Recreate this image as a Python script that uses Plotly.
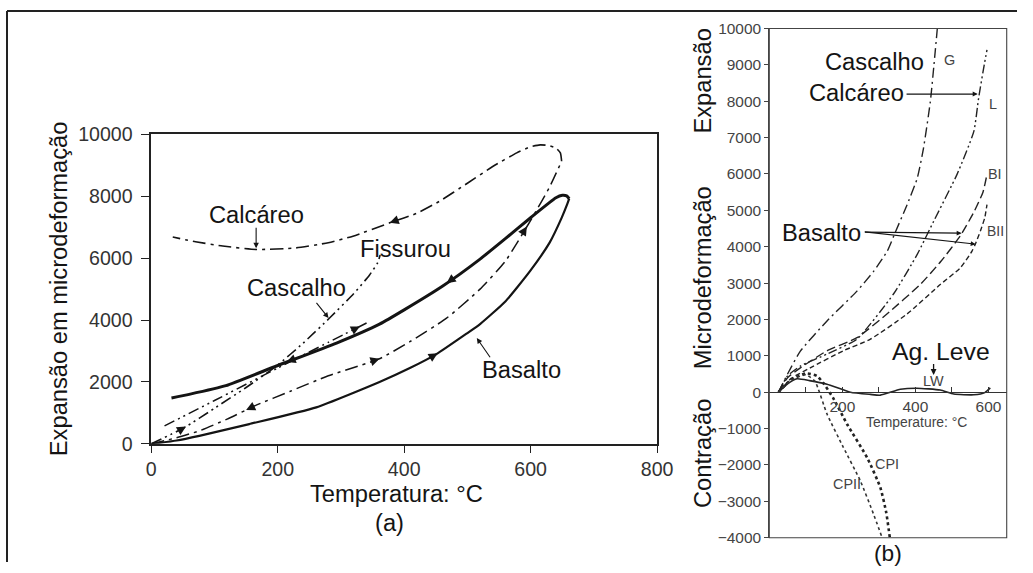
import numpy as np
import plotly.graph_objects as go

W, H = 1033, 573
# measured mapping between figure pixels and the photographed picture:
# picture = S * figure + C   (per direction)
SXP, CXP = 0.978, 6.0
SYP, CYP = 0.963, 9.5
FS = 1.0 / 0.97  # font compensation

FONT = "Liberation Sans, Arial, sans-serif"
INK = "#141414"
GRAY = "#444444"

# ---------------- Panel (a) data ----------------
calc_heat_T = [0, 40, 76, 120, 166, 220, 280, 361, 409, 467, 520, 560, 602, 630, 649]
calc_heat_E = [0, 200, 420, 800, 1250, 1700, 2200, 2750, 3300, 4060, 5000, 5900, 7290, 8300, 9130]
calc_cool_T = [649, 647, 640, 628, 615, 600, 578, 540, 500, 456, 420, 377, 319, 280, 229, 166, 113, 70, 34]
calc_cool_E = [9130, 9400, 9560, 9640, 9660, 9600, 9400, 8960, 8420, 7840, 7450, 7140, 6710, 6500, 6330, 6280, 6390, 6530, 6680]

casc_heat_T = [0, 52, 100, 150, 198, 240, 282, 320, 345, 358, 362]
casc_heat_E = [0, 520, 1150, 1820, 2516, 3250, 4065, 4850, 5450, 5850, 6100]
casc_back_T = [21, 100, 200, 280, 345]
casc_back_E = [580, 1400, 2450, 3280, 3950]

bas_heat_T = [0, 40, 76, 155, 261, 361, 409, 451, 500, 520, 560, 599, 630, 649, 658, 661]
bas_heat_E = [0, 110, 260, 640, 1180, 2000, 2450, 2900, 3580, 3870, 4600, 5580, 6500, 7300, 7750, 7920]
bas_cool_T = [661, 657, 650, 640, 599, 560, 520, 461, 400, 361, 293, 198, 118, 60, 32]
bas_cool_E = [7920, 8010, 8030, 7950, 7290, 6630, 5970, 5100, 4330, 3870, 3258, 2516, 1880, 1600, 1484]

a_xticks = [0, 200, 400, 600, 800]
a_yticks = [0, 2000, 4000, 6000, 8000, 10000]

# ---------------- Panel (b) data ----------------
G_T = [25, 50, 85, 158, 240, 286, 323, 345, 375, 405, 422, 441, 460]
G_E = [0, 500, 1130, 1960, 2780, 3330, 3880, 4400, 5100, 5880, 6700, 8000, 10000]
L_T = [25, 50, 85, 158, 240, 340, 405, 450, 514, 560, 573, 585, 596]
L_E = [0, 450, 720, 1050, 1460, 2700, 3790, 4700, 5990, 7170, 8080, 8800, 9415]
BI_T = [25, 50, 85, 158, 240, 322, 414, 470, 523, 560, 585, 596]
BI_E = [0, 400, 670, 1140, 1500, 2150, 2970, 3600, 4300, 4950, 5500, 5990]
BII_T = [25, 60, 112, 203, 277, 377, 468, 523, 555, 564, 578, 590, 596]
BII_E = [0, 380, 670, 1140, 1460, 2150, 2960, 3420, 3880, 4070, 4430, 4800, 5160]
LW_T = [25, 50, 76, 110, 158, 222, 277, 304, 359, 404, 468, 505, 560, 590, 605]
LW_E = [0, 230, 370, 320, 220, 0, -60, -80, 80, 110, 60, -50, -70, -10, 120]
CPI_T = [25, 60, 100, 130, 148, 175, 213, 268, 304, 320, 330]
CPI_E = [0, 350, 520, 450, 250, -160, -880, -1800, -2620, -3300, -4000]
CPII_T = [25, 60, 100, 125, 158, 203, 249, 285, 309]
CPII_E = [0, 330, 480, 300, -600, -1520, -2430, -3340, -4000]

b_xtickvals = [100, 200, 300, 400, 500, 600]
b_xticktext = ["", "200", "", "400", "", "600"]
b_yticks = list(range(-4000, 10001, 1000))

# ---------------- layout geometry (target picture pixels -> paper) ----------------
def fx(px):
    return (px - CXP) / SXP

def fy(py):
    return (py - CYP) / SYP

def px2paper_x(px):
    return fx(px) / W

def px2paper_y(py):
    return 1 - fy(py) / H

A_X = [px2paper_x(152), px2paper_x(657)]
A_Y = [px2paper_y(443), px2paper_y(133)]
B_X = [px2paper_x(769), px2paper_x(1006)]
B_Y = [px2paper_y(537), px2paper_y(27)]
B_RANGE_Y = [-4000, 10000]
zero_pos = B_Y[0] + (0 - B_RANGE_Y[0]) / (B_RANGE_Y[1] - B_RANGE_Y[0]) * (B_Y[1] - B_Y[0])

DASHDOT = "13px,5px,3px,5px"
DASHDOTDOT = "11px,4px,2px,4px,2px,4px"

fig = go.Figure()

def add(x, y, xa, ya, width, dash, color=INK, smooth=0.5):
    fig.add_trace(go.Scatter(x=x, y=y, xaxis=xa, yaxis=ya, mode="lines",
                             line=dict(color=color, width=width, dash=dash, shape="spline", smoothing=smooth),
                             hoverinfo="skip", showlegend=False))

add(calc_heat_T, calc_heat_E, "x", "y", 1.5, DASHDOT)
add(calc_cool_T, calc_cool_E, "x", "y", 1.6, DASHDOT)
add(casc_heat_T, casc_heat_E, "x", "y", 1.6, DASHDOTDOT)
add(casc_back_T, casc_back_E, "x", "y", 1.5, DASHDOTDOT)
add(bas_heat_T, bas_heat_E, "x", "y", 2.2, "solid")
add(bas_cool_T, bas_cool_E, "x", "y", 3.0, "solid")

add(G_T, G_E, "x2", "y2", 1.4, "10px,4px,2px,4px", "#222")
add(L_T, L_E, "x2", "y2", 1.4, "9px,3px,2px,3px,2px,3px", "#222")
add(BI_T, BI_E, "x2", "y2", 1.4, "9px,4px", "#222")
add(BII_T, BII_E, "x2", "y2", 1.4, "5px,3px", "#222")
add(LW_T, LW_E, "x2", "y2", 1.6, "solid", "#222")
add(CPI_T, CPI_E, "x2", "y2", 2.6, "dot", "#222")
add(CPII_T, CPII_E, "x2", "y2", 1.6, "dot", "#333")

annotations = []

def txt(px, py, text, size, color=INK, xanchor="center", angle=0):
    annotations.append(dict(x=px2paper_x(px), y=px2paper_y(py), xref="paper", yref="paper",
                            text=text, showarrow=False, xanchor=xanchor, yanchor="middle",
                            textangle=angle, font=dict(family=FONT, size=size * FS, color=color)))

def arrow_px(x0, y0, x1, y1, width=1.1, head=2, size=1.0):
    annotations.append(dict(x=px2paper_x(x1), y=px2paper_y(y1), xref="paper", yref="paper",
                            ax=fx(x0) - fx(x1), ay=fy(y0) - fy(y1), axref="pixel", ayref="pixel",
                            text="", showarrow=True, arrowhead=head, arrowsize=size,
                            arrowwidth=width, arrowcolor=INK))

SX = (657 - 152) / 800.0
SY = (443 - 133) / 10000.0

def flow_arrow(Ts, Es, T0, forward=True, length=8):
    Ts = np.asarray(Ts, float)
    Es = np.asarray(Es, float)
    if Ts[0] > Ts[-1]:
        Ts, Es = Ts[::-1], Es[::-1]
        forward = not forward
    E0 = np.interp(T0, Ts, Es)
    step = -5 if forward else 5
    E1 = np.interp(T0 + step, Ts, Es)
    dx = step * SX
    dy = -(E1 - E0) * SY
    n = np.hypot(dx, dy)
    annotations.append(dict(x=T0, y=E0, xref="x", yref="y",
                            ax=dx / n * length, ay=dy / n * length, axref="pixel", ayref="pixel",
                            text="", showarrow=True, arrowhead=2, arrowsize=1.3, arrowwidth=1.4,
                            arrowcolor=INK))

flow_arrow(calc_cool_T, calc_cool_E, 377, forward=True)
flow_arrow(calc_heat_T, calc_heat_E, 594, forward=True)
flow_arrow(calc_heat_T, calc_heat_E, 361, forward=True)
flow_arrow(calc_heat_T, calc_heat_E, 150, forward=False)
flow_arrow(bas_cool_T, bas_cool_E, 467, forward=True)
flow_arrow(bas_cool_T, bas_cool_E, 214, forward=True)
flow_arrow(bas_heat_T, bas_heat_E, 453, forward=True)
flow_arrow(casc_heat_T, casc_heat_E, 55, forward=True)
flow_arrow(casc_back_T, casc_back_E, 330, forward=True)

# panel (a) texts
txt(60, 288, "Expansão em microdeformação", 23, angle=-90)
txt(397, 493, "Temperatura: °C", 23)
txt(390, 522, "(a)", 23)
txt(257, 214, "Calcáreo", 23)
arrow_px(256.7, 226, 256.7, 247)
txt(406, 248, "Fissurou", 23)
txt(297, 287, "Cascalho", 23)
arrow_px(316, 301, 329, 317)
txt(522, 369, "Basalto", 23)
arrow_px(491, 357, 477, 337)

# panel (b) texts
txt(703, 80, "Expansão", 23, angle=-90)
txt(703, 277, "Microdeformação", 23, angle=-90)
txt(703, 453, "Contração", 23, angle=-90)
txt(925, 61, "Cascalho", 23, xanchor="right")
txt(941, 59, "G", 14, GRAY, xanchor="left")
txt(905, 92, "Calcáreo", 23, xanchor="right")
arrow_px(906, 92.7, 977, 92.7, width=1.1, head=2, size=0.9)
txt(986, 103, "L", 14, GRAY, xanchor="left")
txt(985, 173, "BI", 14, GRAY, xanchor="left")
txt(984, 230, "BII", 13.5, GRAY, xanchor="left")
txt(863, 232, "Basalto", 23, xanchor="right")
arrow_px(865, 231, 961, 232, width=1.1, head=2, size=0.9)
arrow_px(865, 231, 975, 243, width=1.1, head=2, size=0.9)
txt(940, 350, "Ag. Leve", 24)
arrow_px(933, 362, 933, 374, width=1.3, head=2, size=0.9)
txt(933, 380, "LW", 14, GRAY)
txt(916, 421, "Temperature: °C", 13.5, GRAY)
txt(873, 463, "CPI", 14, GRAY, xanchor="left")
txt(831, 483, "CPII", 14, GRAY, xanchor="left")
txt(887, 552, "(b)", 22)

shapes = [
    dict(type="line", xref="paper", yref="paper", x0=px2paper_x(8), x1=1.0,
         y0=1.0, y1=1.0, line=dict(color="#222", width=2)),
    dict(type="line", xref="paper", yref="paper", x0=px2paper_x(8), x1=px2paper_x(8),
         y0=1.0, y1=0, line=dict(color="#222", width=2)),
    dict(type="rect", xref="x2 domain", yref="y2 domain", x0=0, x1=1, y0=0, y1=1,
         line=dict(color="#444", width=1.1)),
]

tickfont_a = dict(family=FONT, size=19 * FS, color="#333")
tickfont_b = dict(family=FONT, size=15 * FS, color="#444")

fig.update_layout(
    width=W, height=H, margin=dict(l=0, r=0, t=0, b=0),
    paper_bgcolor="white", plot_bgcolor="white", showlegend=False,
    font=dict(family=FONT, color=INK),
    xaxis=dict(domain=A_X, range=[0, 800], anchor="y", tickvals=a_xticks,
               ticktext=[str(v) for v in a_xticks], ticks="outside", ticklen=7, tickwidth=1.4,
               tickcolor="#222", showline=True, linecolor="#222", linewidth=1.5, mirror=True,
               showgrid=False, zeroline=False, tickfont=tickfont_a),
    yaxis=dict(domain=A_Y, range=[0, 10000], anchor="x", tickvals=a_yticks,
               ticktext=[str(v) for v in a_yticks], ticks="outside", ticklen=8, tickwidth=1.4,
               tickcolor="#222", showline=True, linecolor="#222", linewidth=1.5, mirror=True,
               showgrid=False, zeroline=False, tickfont=tickfont_a, ticklabelstandoff=5),
    xaxis2=dict(domain=B_X, range=[0, 650], anchor="free", position=zero_pos,
                tickvals=b_xtickvals, ticktext=b_xticktext, ticks="inside", ticklen=5,
                tickwidth=1, tickcolor="#333", showline=True, linecolor="#333", linewidth=1.3,
                showgrid=False, zeroline=False, tickfont=tickfont_b),
    yaxis2=dict(domain=B_Y, range=B_RANGE_Y, anchor="x2", tickvals=b_yticks,
                ticktext=[str(v).replace("-", "\u2212") for v in b_yticks], ticks="outside",
                ticklen=4, tickwidth=1, tickcolor="#444", showline=True, linecolor="#444",
                linewidth=1.1, showgrid=False, zeroline=False, tickfont=tickfont_b),
    annotations=annotations, shapes=shapes,
)

fig.write_html("out.html")
